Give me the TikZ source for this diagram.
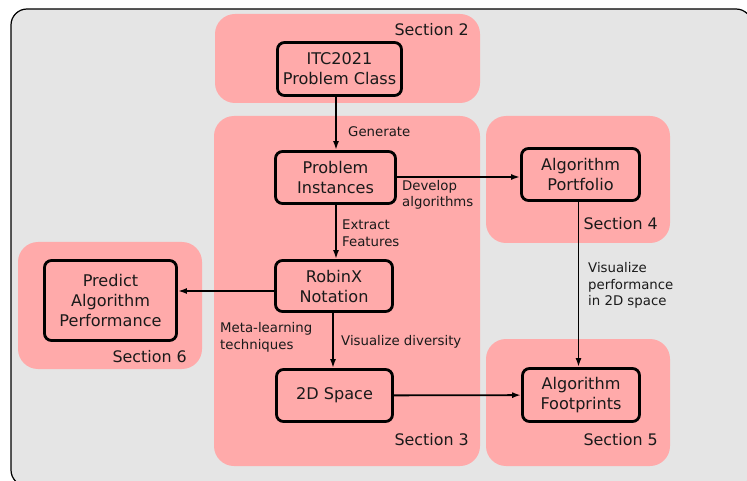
\documentclass[tikz,border=0pt]{standalone}
\usepackage{fontspec}
\setmainfont{DejaVu Sans}
\usetikzlibrary{arrows.meta}
\definecolor{secpink}{RGB}{255,170,170}
\definecolor{backgray}{RGB}{229,229,229}
\definecolor{inkgray}{RGB}{26,26,26}
\tikzset{
  stagebox/.style={draw=black, line width=2.8pt, rounded corners=7pt, fill=secpink,
    align=center, inner sep=0pt, text=inkgray,
    font=\fontsize{16.1}{20}\selectfont},
  section/.style={fill=secpink, rounded corners=20pt},
  seclabel/.style={anchor=east, inner sep=0pt, text=inkgray, font=\fontsize{15.9}{19}\selectfont},
  steplabel/.style={anchor=west, align=left, inner sep=0pt, text=inkgray,
    font=\fontsize{13.3}{16.5}\selectfont},
  flow/.style={line width=1.8pt, -{Latex[length=9pt,width=6pt]}}
}

\begin{document}
\begin{tikzpicture}[x=1pt,y=-1pt]
\useasboundingbox (0,0) rectangle (747,481);
\draw[fill=backgray, line width=1.2pt, rounded corners=16pt] (11,9) rectangle (752,486);

% sections
\fill[section] (215,14) rectangle (480,103);
\fill[section] (214,116) rectangle (480,466);
\fill[section] (486,116) rectangle (670,243);
\fill[section] (486,339) rectangle (670,466);
\fill[section] (18,242) rectangle (202,369);

\node[seclabel] (sec2) at (469,30) {Section 2};
\node[seclabel] (sec3) at (469,440) {Section 3};
\node[seclabel] (sec4) at (658,224) {Section 4};
\node[seclabel] (sec5) at (658,440) {Section 5};
\node[seclabel] (sec6) at (187,357) {Section 6};

% stages
\node[stagebox, minimum width=124pt, minimum height=53pt] (itc) at (339.5,69) {ITC2021\\Problem Class};
\node[stagebox, minimum width=120pt, minimum height=52pt] (inst) at (335.5,177.5) {Problem\\Instances};
\node[stagebox, minimum width=117pt, minimum height=51pt] (robinx) at (334,286) {RobinX\\Notation};
\node[stagebox, minimum width=116pt, minimum height=52pt] (space) at (334.5,395.5) {2D Space};
\node[stagebox, minimum width=118pt, minimum height=52pt] (portfolio) at (580.5,174.5) {Algorithm\\Portfolio};
\node[stagebox, minimum width=117pt, minimum height=53pt] (footprint) at (581,395) {Algorithm\\Footprints};
\node[stagebox, minimum width=132pt, minimum height=80pt] (predict) at (110.5,300.5) {Predict\\Algorithm\\Performance};

% connectors
\draw[flow] (itc.south -| 336,0) -- (inst.north -| 336,0);
\draw[flow] (inst.south -| 336,0) -- (robinx.north -| 336,0);
\draw[flow] (robinx.south -| 333,0) -- (space.north -| 333,0);
\draw[flow] (inst.east |- 0,177) -- (portfolio.west |- 0,177);
\draw[flow] (space) -- (footprint);
\draw[flow] (robinx.west |- 0,291) -- (predict.east |- 0,291);
\draw[flow] (portfolio.south -| 578.5,0) -- (footprint.north -| 578.5,0);

\node[steplabel] (generate) at (348,132) {Generate};
\node[steplabel] (extract) at (342,233) {Extract\\Features};
\node[steplabel] (develop) at (402,195) {Develop\\algorithms};
\node[steplabel] (meta) at (220,337.5) {Meta-learning\\techniques};
\node[steplabel] (diversity) at (341,342) {Visualize diversity};
\node[steplabel] (perform) at (588,285.5) {Visualize\\performance\\in 2D space};
\end{tikzpicture}
\end{document}
